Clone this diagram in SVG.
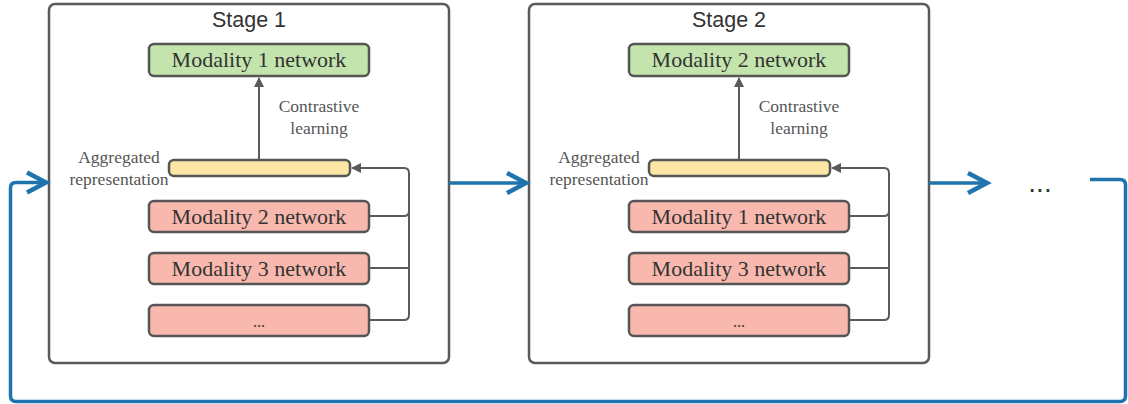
<svg xmlns="http://www.w3.org/2000/svg" width="1128" height="404" viewBox="0 0 1128 404">
<defs>
<marker id="ga" viewBox="0 0 10 10" refX="9" refY="5" markerWidth="10" markerHeight="10" markerUnits="userSpaceOnUse" orient="auto"><path d="M0,0 L10,5 L0,10 Z" fill="#5a5a5a"/></marker>
<style>
.stage{fill:#ffffff;stroke:#5a5a5a;stroke-width:2.5}
.title{font-family:"Liberation Sans",Arial,sans-serif;font-size:21.5px;fill:#333;text-anchor:middle}
.green{fill:#c3e4ad;stroke:#555;stroke-width:2.5}
.red{fill:#f8b8ae;stroke:#555;stroke-width:2.5}
.yellow{fill:#fde6a6;stroke:#555;stroke-width:2.5}
.lbl{font-family:"Liberation Serif","Times New Roman",serif;font-size:22px;fill:#333;text-anchor:middle}
.small{font-family:"Liberation Serif","Times New Roman",serif;font-size:17.5px;fill:#555;text-anchor:middle}
.gline{fill:none;stroke:#5a5a5a;stroke-width:2}
.blue{fill:none;stroke:#1f74ad;stroke-width:3.5}
.chev{fill:none;stroke:#1f74ad;stroke-width:4.5;stroke-linejoin:miter}
</style>
</defs>
<g id="stage1">
<rect class="stage" x="49" y="4" width="400" height="359" rx="6"/>
<text class="title" x="249" y="27">Stage 1</text>
</g>
<g id="s1-m1"><rect class="green" x="149" y="44" width="220" height="32" rx="5"/><text class="lbl" x="259" y="67">Modality 1 network</text></g>
<g id="s1-agg"><rect class="yellow" x="169" y="160" width="181" height="16" rx="5"/>
<text class="small" x="119" y="163">Aggregated</text>
<text class="small" x="119" y="185">representation</text></g>
<g id="s1-m2"><rect class="red" x="149" y="201" width="220" height="31" rx="5"/><text class="lbl" x="259" y="224">Modality 2 network</text></g>
<g id="s1-m3"><rect class="red" x="149" y="253" width="220" height="31" rx="5"/><text class="lbl" x="259" y="276">Modality 3 network</text></g>
<g id="s1-more"><rect class="red" x="149" y="305" width="220" height="31" rx="5"/><text class="lbl" x="259" y="327" style="font-size:16px">...</text></g>
<text class="small" x="319" y="112">Contrastive</text>
<text class="small" x="319" y="134">learning</text>

<g id="stage2">
<rect class="stage" x="529" y="4" width="400" height="359" rx="6"/>
<text class="title" x="729" y="27">Stage 2</text>
</g>
<g id="s2-m2"><rect class="green" x="629" y="44" width="220" height="32" rx="5"/><text class="lbl" x="739" y="67">Modality 2 network</text></g>
<g id="s2-agg"><rect class="yellow" x="649" y="160" width="181" height="16" rx="5"/>
<text class="small" x="599" y="163">Aggregated</text>
<text class="small" x="599" y="185">representation</text></g>
<g id="s2-m1"><rect class="red" x="629" y="201" width="220" height="31" rx="5"/><text class="lbl" x="739" y="224">Modality 1 network</text></g>
<g id="s2-m3"><rect class="red" x="629" y="253" width="220" height="31" rx="5"/><text class="lbl" x="739" y="276">Modality 3 network</text></g>
<g id="s2-more"><rect class="red" x="629" y="305" width="220" height="31" rx="5"/><text class="lbl" x="739" y="327" style="font-size:16px">...</text></g>
<text class="small" x="799" y="112">Contrastive</text>
<text class="small" x="799" y="134">learning</text>

<g id="more-stages"><text x="1040" y="192" style="font-family:'Liberation Sans',Arial,sans-serif;font-size:28px;fill:#333;text-anchor:middle">...</text></g>

<g id="connectors">
<line class="gline" x1="259" y1="160" x2="259" y2="78" marker-end="url(#ga)"/>
<path class="gline" d="M369,216 H404 Q409,216 409,211 V173 Q409,168 404,168 H352" marker-end="url(#ga)"/>
<path class="gline" d="M369,268 H409"/>
<path class="gline" d="M369,320 H404 Q409,320 409,315 V211"/>
<line class="gline" x1="739" y1="160" x2="739" y2="78" marker-end="url(#ga)"/>
<path class="gline" d="M849,216 H884 Q889,216 889,211 V173 Q889,168 884,168 H832" marker-end="url(#ga)"/>
<path class="gline" d="M849,268 H889"/>
<path class="gline" d="M849,320 H884 Q889,320 889,315 V211"/>

<line class="blue" x1="449" y1="183" x2="524" y2="183"/>
<path class="chev" d="M507,173 L526,183 L507,193"/>
<line class="blue" x1="929" y1="183" x2="984" y2="183"/>
<path class="chev" d="M968,173 L987,183 L968,193"/>
<path class="blue" d="M1090,179.5 H1120 Q1125.5,179.5 1125.5,185 V396 Q1125.5,401.5 1120,401.5 H16 Q10.5,401.5 10.5,396 V188 Q10.5,182.5 16,182.5 H43"/>
<path class="chev" d="M27,172.5 L46,182.5 L27,192.5"/>
</g>
</svg>
